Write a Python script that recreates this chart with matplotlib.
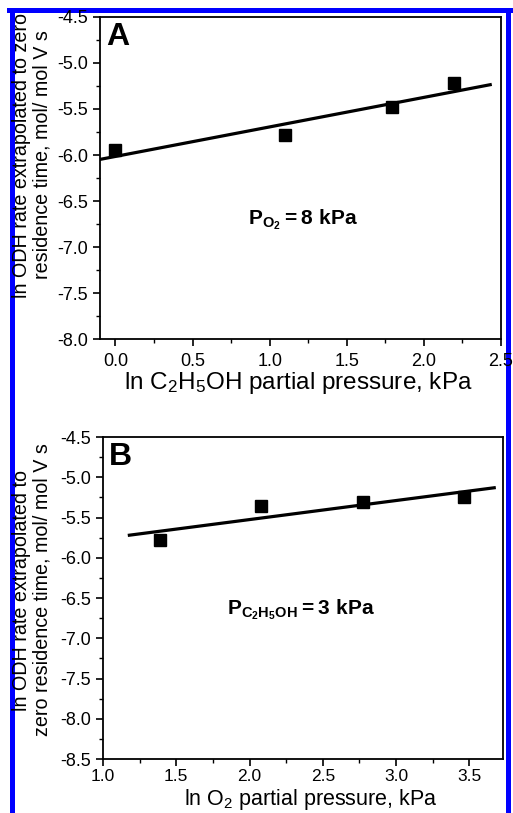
import numpy as np
import matplotlib
matplotlib.use('Agg')
import matplotlib.pyplot as plt
from matplotlib.lines import Line2D
from matplotlib.ticker import MultipleLocator, FormatStrFormatter

plt.rcParams['font.family'] = ['Liberation Sans', 'DejaVu Sans']
plt.rcParams['mathtext.fontset'] = 'custom'
plt.rcParams['mathtext.rm'] = 'Liberation Sans'
plt.rcParams['mathtext.bf'] = 'Liberation Sans:bold'
plt.rcParams['mathtext.default'] = 'regular'

# Panel A: ln ethanol partial pressure (P_O2 = 8 kPa)
x_a = [0.0, 1.0986, 1.7918, 2.1972]
y_a = [-5.95, -5.78, -5.48, -5.22]
fit_range_a = [-0.1, 2.43]

# Panel B: ln O2 partial pressure (P_C2H5OH = 3 kPa)
x_b = [1.3863, 2.0794, 2.7726, 3.4657]
y_b = [-5.78, -5.36, -5.31, -5.25]
fit_range_b = [1.18, 3.67]

fig = plt.figure(figsize=(5.13, 8.13), dpi=100)
W, H = 513.0, 813.0

# Blue frame round the figure
blue = '#0000ff'
lw = 5 * 72 / 100
fig.add_artist(Line2D([11.5 / W, 11.5 / W], [1 - 10.5 / H, 0], color=blue, lw=lw, zorder=0))
fig.add_artist(Line2D([9 / W, 510 / W], [1 - 10.5 / H, 1 - 10.5 / H], color=blue, lw=lw, zorder=0))
fig.add_artist(Line2D([507.5 / W, 507.5 / W], [1 - 10.5 / H, 0], color=blue, lw=lw, zorder=0))


def panel(rect, xs, ys, fit_range, xlim, ylim, letter, note, note_xy,
          xlabel, xlabel_xy, xlabel_size, xpad, xtick_size):
    ax = fig.add_axes(rect)
    ax.plot(xs, ys, 's', color='black', ms=8.5, zorder=3)
    k, b = np.polyfit(xs, ys, 1)
    fx = np.array(fit_range)
    ax.plot(fx, k * fx + b, '-', color='black', lw=2.3, zorder=2)
    ax.set_xlim(*xlim)
    ax.set_ylim(*ylim)
    ax.xaxis.set_major_locator(MultipleLocator(0.5))
    ax.xaxis.set_minor_locator(MultipleLocator(0.25))
    ax.yaxis.set_major_locator(MultipleLocator(0.5))
    ax.yaxis.set_minor_locator(MultipleLocator(0.25))
    ax.xaxis.set_major_formatter(FormatStrFormatter('%.1f'))
    ax.yaxis.set_major_formatter(FormatStrFormatter('%.1f'))
    ax.tick_params(which='major', direction='out', length=5, width=1.2, labelsize=13)
    ax.tick_params(axis='x', which='major', pad=xpad, labelsize=xtick_size)
    ax.tick_params(which='minor', direction='out', length=3, width=1)
    for s in ax.spines.values():
        s.set_linewidth(1.3)
    ax.text(0.015, 0.985, letter, transform=ax.transAxes, fontsize=23,
            fontweight='bold', va='top', ha='left')
    ax.text(note_xy[0], note_xy[1], note, transform=ax.transAxes, fontsize=15,
            ha='left', va='baseline')
    ax.set_xlabel(xlabel, fontsize=xlabel_size, labelpad=0)
    ax.xaxis.set_label_coords(*xlabel_xy)
    return ax


axA = panel([100 / W, 1 - 339 / H, 401 / W, 322 / H], x_a, y_a, fit_range_a,
            (-0.1, 2.5), (-8.0, -4.5), 'A',
            r'$\mathbf{P_{O_2}= 8\ kPa}$', (0.37, 0.355),
            r'ln C$_2$H$_5$OH partial pressure, kPa', (0.495, -0.095), 17.5, 5, 13)
axB = panel([103 / W, 1 - 759 / H, 400 / W, 322 / H], x_b, y_b, fit_range_b,
            (1.0, 3.73), (-8.5, -4.5), 'B',
            r'$\mathbf{P_{C_2H_5OH}= 3\ kPa}$', (0.31, 0.45),
            r'ln O$_2$ partial pressure, kPa', (0.52, -0.086), 15.5, 2, 12.5)

fig.text(32 / W, 1 - 155 / H, 'ln ODH rate extrapolated to zero\nresidence time, mol/ mol V s',
         rotation=90, ha='center', va='center', fontsize=14.2, linespacing=1.1,
         multialignment='center')
fig.text(32 / W, 1 - 590 / H, 'ln ODH rate extrapolated to\nzero residence time, mol/ mol V s',
         rotation=90, ha='center', va='center', fontsize=14.2, linespacing=1.1,
         multialignment='center')

fig.savefig('out.png', dpi=100)
